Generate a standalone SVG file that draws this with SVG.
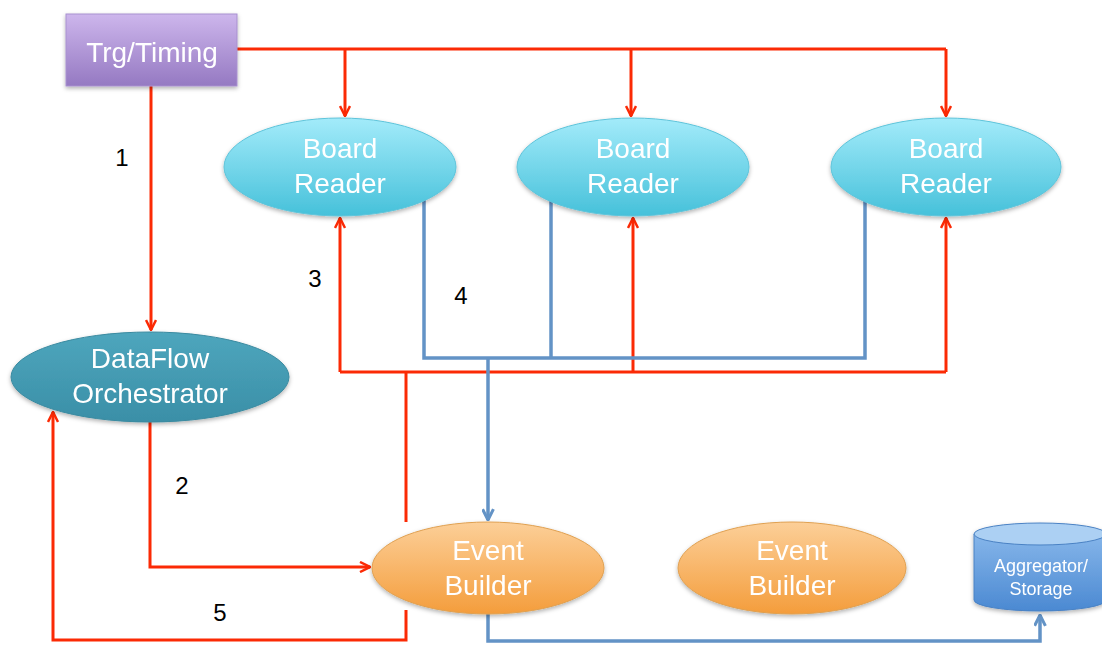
<svg xmlns="http://www.w3.org/2000/svg" width="1102" height="646" viewBox="0 0 1102 646">
<style>
.lbl{font-family:"Liberation Sans",Arial,sans-serif;font-size:28px;fill:#fff;text-anchor:middle}
.sm{font-size:18px}
.num{font-family:"Liberation Sans",Arial,sans-serif;font-size:24px;fill:#000;text-anchor:middle}
.red{fill:none;stroke:#fb2a05;stroke-width:3}
.blue{fill:none;stroke:#6393c6;stroke-width:3.5}
</style>
<defs>
<linearGradient id="gP" x1="0" y1="0" x2="0" y2="1"><stop offset="0" stop-color="#cdb6ec"/><stop offset="1" stop-color="#9579c2"/></linearGradient>
<linearGradient id="gB" x1="0" y1="0" x2="0" y2="1"><stop offset="0" stop-color="#a3ebfa"/><stop offset="1" stop-color="#46c1da"/></linearGradient>
<linearGradient id="gD" x1="0" y1="0" x2="0" y2="1"><stop offset="0" stop-color="#4ea6bd"/><stop offset="1" stop-color="#3a8fa7"/></linearGradient>
<linearGradient id="gE" x1="0" y1="0" x2="0" y2="1"><stop offset="0" stop-color="#fccf98"/><stop offset="1" stop-color="#f49d3c"/></linearGradient>
<linearGradient id="gA" x1="0" y1="0" x2="0" y2="1"><stop offset="0" stop-color="#86b6ea"/><stop offset="1" stop-color="#4b89d2"/></linearGradient>
<filter id="sh" x="-10%" y="-10%" width="130%" height="140%"><feDropShadow dx="0" dy="2" stdDeviation="2" flood-color="#000" flood-opacity="0.3"/></filter>
<marker id="ar" viewBox="0 0 12 12" refX="11" refY="6" markerWidth="12" markerHeight="12" markerUnits="userSpaceOnUse" orient="auto"><path d="M1,1 L11,6 L1,11" fill="none" stroke="#fb2a05" stroke-width="2.5"/></marker>
<marker id="ab" viewBox="0 0 12 12" refX="11" refY="6" markerWidth="13" markerHeight="13" markerUnits="userSpaceOnUse" orient="auto"><path d="M1,1 L11,6 L1,11" fill="none" stroke="#6393c6" stroke-width="2.8"/></marker>
</defs>
<rect width="1102" height="646" fill="#fff"/>

<g id="connectors">
<path class="red" d="M237,49 H946"/>
<path class="red" d="M345,49 V116" marker-end="url(#ar)"/>
<path class="red" d="M631,49 V116" marker-end="url(#ar)"/>
<path class="red" d="M946,49 V116" marker-end="url(#ar)"/>
<path class="red" d="M151,86 V330" marker-end="url(#ar)"/>
<path class="red" d="M150,421 V567 H370" marker-end="url(#ar)"/>
<path class="red" d="M406,610 V640 H53 V412" marker-end="url(#ar)"/>
<path class="red" d="M406,522 V372"/>
<path class="red" d="M340,372 H946"/>
<path class="red" d="M340,372 V218" marker-end="url(#ar)"/>
<path class="red" d="M633,372 V218" marker-end="url(#ar)"/>
<path class="red" d="M946,372 V218" marker-end="url(#ar)"/>
<path class="blue" d="M424,196 V358 H865 V196"/>
<path class="blue" d="M551,195 V358"/>
<path class="blue" d="M488,358 V520" marker-end="url(#ab)"/>
<path class="blue" d="M488,614 V641 H1040 V615" marker-end="url(#ab)"/>
</g>

<g id="trg" filter="url(#sh)">
<rect x="66" y="14" width="171" height="72" fill="url(#gP)" stroke="#a891cf" stroke-width="1"/>
<text class="lbl" x="152" y="62">Trg/Timing</text>
</g>
<g id="br1" filter="url(#sh)">
<ellipse cx="340" cy="167" rx="116" ry="49" fill="url(#gB)" stroke="#5ec4da" stroke-width="1"/>
<text class="lbl" x="340" y="158">Board</text><text class="lbl" x="340" y="193">Reader</text>
</g>
<g id="br2" filter="url(#sh)">
<ellipse cx="633" cy="167" rx="116" ry="49" fill="url(#gB)" stroke="#5ec4da" stroke-width="1"/>
<text class="lbl" x="633" y="158">Board</text><text class="lbl" x="633" y="193">Reader</text>
</g>
<g id="br3" filter="url(#sh)">
<ellipse cx="946" cy="167" rx="115" ry="49" fill="url(#gB)" stroke="#5ec4da" stroke-width="1"/>
<text class="lbl" x="946" y="158">Board</text><text class="lbl" x="946" y="193">Reader</text>
</g>
<g id="dfo" filter="url(#sh)">
<ellipse cx="150" cy="377" rx="139" ry="45" fill="url(#gD)" stroke="#3a8aa0" stroke-width="1"/>
<text class="lbl" x="150" y="368">DataFlow</text><text class="lbl" x="150" y="403">Orchestrator</text>
</g>
<g id="eb1" filter="url(#sh)">
<ellipse cx="488" cy="568" rx="116" ry="46" fill="url(#gE)" stroke="#e0a050" stroke-width="1"/>
<text class="lbl" x="488" y="560">Event</text><text class="lbl" x="488" y="595">Builder</text>
</g>
<g id="eb2" filter="url(#sh)">
<ellipse cx="792" cy="568" rx="114" ry="46" fill="url(#gE)" stroke="#e0a050" stroke-width="1"/>
<text class="lbl" x="792" y="560">Event</text><text class="lbl" x="792" y="595">Builder</text>
</g>
<g id="agg" filter="url(#sh)">
<path d="M974,534 V600 A66,11 0 0 0 1106,600 V534 Z" fill="url(#gA)" stroke="#4a82c4" stroke-width="1"/>
<ellipse cx="1040" cy="534" rx="66" ry="11" fill="#acd0f3" stroke="#4a82c4" stroke-width="1"/>
<text class="lbl sm" x="1041" y="572">Aggregator/</text>
<text class="lbl sm" x="1041" y="595">Storage</text>
</g>

<g id="labels">
<text class="num" x="122" y="166">1</text>
<text class="num" x="182" y="494">2</text>
<text class="num" x="315" y="287">3</text>
<text class="num" x="461" y="304">4</text>
<text class="num" x="220" y="621">5</text>
</g>
</svg>
